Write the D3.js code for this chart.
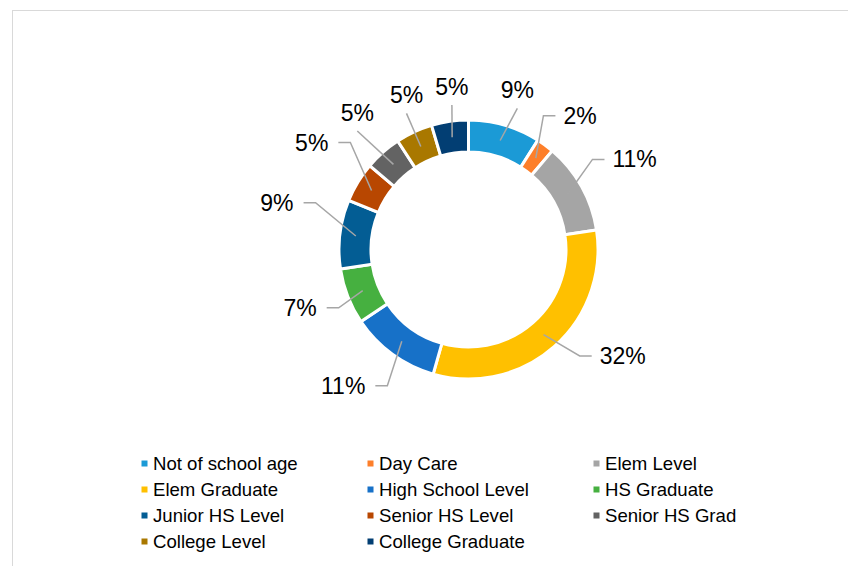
<!DOCTYPE html>
<html>
<head>
<meta charset="utf-8">
<script src="https://cdn.jsdelivr.net/npm/d3@7"></script>
<style>
  body { margin: 0; background: #fff; }
  text { font-family: "Liberation Sans", Arial, sans-serif; }
</style>
</head>
<body>
<div id="chart"></div>
<script>
const categories = ["Not of school age", "Day Care", "Elem Level", "Elem Graduate", "High School Level",
    "HS Graduate", "Junior HS Level", "Senior HS Level", "Senior HS Grad", "College Level", "College Graduate"];
const shares = [9.0, 2.2, 11.4, 31.8, 11.2, 7.0, 8.6, 5.0, 4.6, 4.6, 4.6];
const colours = ["#1b9ad6", "#fd7f2a", "#a5a5a5", "#ffc000", "#1771c8", "#46b040",
    "#035d94", "#b84701", "#636363", "#a97800", "#023e73"];

// label layout: which side the text sits on, and a nudge of the elbow point
const labelSide = ["above", "right", "right", "right", "left", "left", "left", "left", "above", "above", "above"];
const labelNudge = [[7, 3], [-14, -13], [-7, -17], [12, -6], [7, 15], [10, 4], [-4, -29], [10, -29], [-12, -6], [1, 0], [5, 4]];

const width = 848, height = 566;
const cx = 468.5, cy = 249.5;

const svg = d3.select("#chart")
    .append("svg")
    .attr("width", width)
    .attr("height", height);

// chart frame (runs off the right and bottom)
svg.append("rect")
    .attr("x", 12.5)
    .attr("y", 10.5)
    .attr("width", 900)
    .attr("height", 600)
    .attr("fill", "none")
    .attr("stroke", "#d9d9d9");

const data = categories.map((c, i) => ({ name: c, value: shares[i], colour: colours[i], i: i }));
const total = d3.sum(shares);

const pie = d3.pie()
    .sort(null)
    .value(d => d.value);

const arcs = pie(data);

const arc = d3.arc()
    .innerRadius(97.5)
    .outerRadius(129.5);

const midRing = d3.arc().innerRadius(113.5).outerRadius(113.5);
const elbowRing = d3.arc().innerRadius(150).outerRadius(150);

const g = svg.append("g")
    .attr("transform", `translate(${cx},${cy})`);

g.selectAll("path.slice")
    .data(arcs)
    .join("path")
    .attr("class", "slice")
    .attr("d", arc)
    .attr("fill", d => d.data.colour)
    .attr("stroke", "#fff")
    .attr("stroke-width", 3);

// leader lines and data labels
arcs.forEach(d => {
    const i = d.data.i;
    const [sx, sy] = midRing.centroid(d);
    const [bx, by] = elbowRing.centroid(d);
    const ex = bx + labelNudge[i][0];
    const ey = by + labelNudge[i][1];
    const side = labelSide[i];
    const pts = [[sx, sy], [ex, ey]];
    let tx, ty, anchor;
    if (side === "right") {
        pts.push([ex + 12, ey]);
        tx = ex + 20; ty = ey + 8; anchor = "start";
    } else if (side === "left") {
        pts.push([ex - 12, ey]);
        tx = ex - 22; ty = ey + 8; anchor = "end";
    } else {
        tx = ex; ty = ey - 10; anchor = "middle";
    }
    g.append("path")
        .attr("d", d3.line()(pts))
        .attr("fill", "none")
        .attr("stroke", "#a6a6a6")
        .attr("stroke-width", 1.5);
    g.append("text")
        .attr("x", tx)
        .attr("y", ty)
        .attr("text-anchor", anchor)
        .style("font-size", "23px")
        .style("fill", "#000")
        .text(Math.round(d.data.value / total * 100) + "%");
});

// legend, three columns
const legend = svg.append("g");
const colX = d3.scaleLinear().domain([0, 1]).range([144.5, 370.5]);
const rowY = d3.scaleLinear().domain([0, 1]).range([463.5, 489.5]);

const item = legend.selectAll("g.item")
    .data(data)
    .join("g")
    .attr("class", "item")
    .attr("transform", d => `translate(${colX(d.i % 3)},${rowY(Math.floor(d.i / 3))})`);

item.append("rect")
    .attr("x", -3)
    .attr("y", -3)
    .attr("width", 6)
    .attr("height", 6)
    .attr("fill", d => d.colour);

item.append("text")
    .attr("x", 8.5)
    .attr("y", 0)
    .attr("dy", "0.35em")
    .style("font-size", "18.6px")
    .style("fill", "#000")
    .text(d => d.name);
</script>
</body>
</html>
